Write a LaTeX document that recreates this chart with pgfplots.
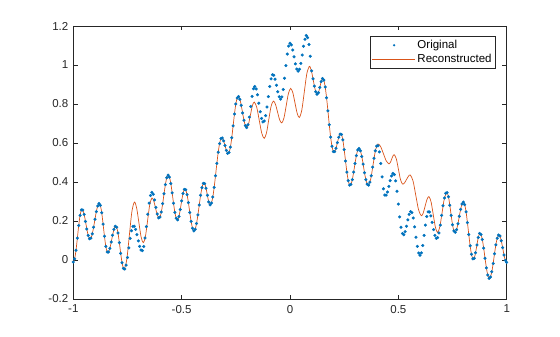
\documentclass[border=0pt]{standalone}
\usepackage{pgfplots}
\pgfplotsset{compat=1.18}
\usepackage{fontspec}
\setmainfont{Liberation Sans}
\definecolor{mblue}{HTML}{0072BD}
\definecolor{morange}{HTML}{D95319}
\definecolor{axgray}{HTML}{262626}
\begin{document}
\begin{tikzpicture}
\begin{axis}[
  scale only axis, width=433.4bp, height=273bp,
  xmin=-1, xmax=1, ymin=-0.2, ymax=1.2,
  xtick={-1,-0.5,0,0.5,1}, ytick={-0.2,0,0.2,0.4,0.6,0.8,1,1.2},
  tick align=inside, major tick length=4.3bp,
  axis line style={axgray, line width=0.5bp},
  tick style={axgray, line width=0.5bp},
  ticklabel style={font=\fontsize{11.5bp}{13bp}\selectfont, text=axgray},
  xticklabel style={yshift=-2.5bp},
  yticklabel style={xshift=-1.5bp},
  /pgf/number format/assume math mode=true,
  /pgf/number format/fixed,
  legend style={at={(rel axis cs:0.975,0.963)}, anchor=north east, draw=axgray, line width=0.5bp,
    font=\fontsize{11.5bp}{13bp}\selectfont, inner xsep=2bp, inner ysep=2bp, row sep=0.5bp},
  legend cell align=left,
]
\addplot[forget plot, mblue, only marks, mark=*, mark size=1.35bp, mark options={draw=none, fill=mblue}]
coordinates {
(-1,-0.010) (-0.99375,0.006) (-0.9875,0.050) (-0.98125,0.112) (-0.975,0.177) (-0.96875,0.229) (-0.9625,0.257)
(-0.95625,0.256) (-0.95,0.234) (-0.94375,0.198) (-0.9375,0.159) (-0.93125,0.126) (-0.925,0.109)
(-0.91875,0.112) (-0.9125,0.134) (-0.90625,0.168) (-0.9,0.209) (-0.89375,0.248) (-0.8875,0.277) (-0.88125,0.290)
(-0.875,0.280) (-0.86875,0.242) (-0.8625,0.184) (-0.85625,0.122) (-0.85,0.070) (-0.84375,0.041)
(-0.8375,0.041) (-0.83125,0.060) (-0.825,0.092) (-0.81875,0.127) (-0.8125,0.157) (-0.80625,0.173)
(-0.8,0.168) (-0.79375,0.138) (-0.7875,0.089) (-0.78125,0.034) (-0.775,-0.014) (-0.76875,-0.043)
(-0.7625,-0.046) (-0.75625,-0.026) (-0.75,0.013) (-0.74375,0.062) (-0.7375,0.111) (-0.73125,0.150) (-0.725,0.172)
(-0.71875,0.173) (-0.7125,0.157) (-0.70625,0.130) (-0.7,0.098) (-0.69375,0.070) (-0.6875,0.051)
(-0.68125,0.048) (-0.675,0.069) (-0.66875,0.113) (-0.6625,0.171) (-0.65625,0.235) (-0.65,0.292) (-0.64375,0.331) (-0.6375,0.347)
(-0.63125,0.337) (-0.625,0.308) (-0.61875,0.270) (-0.6125,0.236) (-0.60625,0.216)
(-0.6,0.220) (-0.59375,0.246) (-0.5875,0.289) (-0.58125,0.340) (-0.575,0.387) (-0.56875,0.422) (-0.5625,0.435)
(-0.55625,0.425) (-0.55,0.392) (-0.54375,0.344) (-0.5375,0.291) (-0.53125,0.244) (-0.525,0.214)
(-0.51875,0.206) (-0.5125,0.223) (-0.50625,0.259) (-0.5,0.303) (-0.49375,0.341) (-0.4875,0.362)
(-0.48125,0.360) (-0.475,0.335) (-0.46875,0.294) (-0.4625,0.244) (-0.45625,0.198) (-0.45,0.163) (-0.44375,0.149)
(-0.4375,0.158) (-0.43125,0.187) (-0.425,0.231) (-0.41875,0.282) (-0.4125,0.332) (-0.40625,0.371) (-0.4,0.393)
(-0.39375,0.392) (-0.3875,0.368) (-0.38125,0.332) (-0.375,0.298) (-0.36875,0.283)
(-0.3625,0.292) (-0.35625,0.323) (-0.35,0.372) (-0.34375,0.432) (-0.3375,0.495) (-0.33125,0.553) (-0.325,0.597) (-0.31875,0.623)
(-0.3125,0.626) (-0.30625,0.611) (-0.3,0.587) (-0.29375,0.562) (-0.2875,0.547)
(-0.28125,0.551) (-0.275,0.579) (-0.26875,0.627) (-0.2625,0.688) (-0.25625,0.749) (-0.25,0.800) (-0.24375,0.831)
(-0.2375,0.838) (-0.23125,0.824) (-0.225,0.793) (-0.21875,0.754) (-0.2125,0.717) (-0.20625,0.689) (-0.2,0.679)
(-0.19375,0.694) (-0.1875,0.733) (-0.18125,0.787) (-0.175,0.839) (-0.16875,0.878) (-0.1625,0.890)
(-0.15625,0.877) (-0.15,0.847) (-0.14375,0.804) (-0.1375,0.760) (-0.13125,0.726) (-0.125,0.708)
(-0.11875,0.713) (-0.1125,0.740) (-0.10625,0.785) (-0.1,0.838) (-0.09375,0.890) (-0.0875,0.929) (-0.08125,0.950)
(-0.075,0.947) (-0.06875,0.927) (-0.0625,0.896) (-0.05625,0.863) (-0.05,0.837) (-0.04375,0.825)
(-0.0375,0.836) (-0.03125,0.874) (-0.025,0.932) (-0.01875,0.997) (-0.0125,1.056) (-0.00625,1.097) (0,1.112)
(0.00625,1.103) (0.0125,1.077) (0.01875,1.042) (0.025,1.006) (0.03125,0.979) (0.0375,0.968)
(0.04375,0.978) (0.05,1.008) (0.05625,1.051) (0.0625,1.096) (0.06875,1.132) (0.075,1.151)
(0.08125,1.140) (0.0875,1.105) (0.09375,1.045) (0.1,0.970) (0.10625,0.929) (0.1125,0.892) (0.11875,0.863) (0.125,0.850)
(0.13125,0.858) (0.1375,0.885) (0.14375,0.915) (0.15,0.931)
(0.15625,0.922) (0.1625,0.887) (0.16875,0.832) (0.175,0.765) (0.18125,0.694) (0.1875,0.630) (0.19375,0.583) (0.2,0.556)
(0.20625,0.556) (0.2125,0.573) (0.21875,0.602) (0.225,0.629) (0.23125,0.646)
(0.2375,0.644) (0.24375,0.616) (0.25,0.566) (0.25625,0.508) (0.2625,0.451) (0.26875,0.407) (0.275,0.384)
(0.28125,0.388) (0.2875,0.412) (0.29375,0.451) (0.3,0.495) (0.30625,0.535) (0.3125,0.564)
(0.31875,0.572) (0.325,0.560) (0.33125,0.531) (0.3375,0.492) (0.34375,0.448) (0.35,0.412) (0.35625,0.389)
(0.3625,0.384) (0.36875,0.399) (0.375,0.432) (0.38125,0.476) (0.3875,0.522) (0.39375,0.560) (0.4,0.584)
(0.40625,0.586) (0.4125,0.554) (0.41875,0.495) (0.425,0.426) (0.43125,0.365) (0.4375,0.333)
(0.44375,0.333) (0.45,0.349) (0.45625,0.377) (0.4625,0.407) (0.46875,0.431) (0.475,0.444)
(0.48125,0.438) (0.4875,0.406) (0.49375,0.353) (0.5,0.287) (0.50625,0.221) (0.5125,0.168) (0.51875,0.136)
(0.525,0.130) (0.53125,0.145) (0.5375,0.173) (0.54375,0.206) (0.55,0.234) (0.55625,0.248)
(0.5625,0.243) (0.56875,0.215) (0.575,0.170) (0.58125,0.117) (0.5875,0.070) (0.59375,0.036) (0.6,0.024)
(0.60625,0.037) (0.6125,0.074) (0.61875,0.126) (0.625,0.179) (0.63125,0.223) (0.6375,0.247)
(0.64375,0.246) (0.65,0.226) (0.65625,0.193) (0.6625,0.156) (0.66875,0.126) (0.675,0.111)
(0.68125,0.115) (0.6875,0.139) (0.69375,0.179) (0.7,0.229) (0.70625,0.278) (0.7125,0.318) (0.71875,0.342)
(0.725,0.346) (0.73125,0.324) (0.7375,0.281) (0.74375,0.229) (0.75,0.181) (0.75625,0.149)
(0.7625,0.142) (0.76875,0.156) (0.775,0.186) (0.78125,0.224) (0.7875,0.260) (0.79375,0.287) (0.8,0.297)
(0.80625,0.284) (0.8125,0.247) (0.81875,0.192) (0.825,0.131) (0.83125,0.073) (0.8375,0.029) (0.84375,0.006)
(0.85,0.009) (0.85625,0.037) (0.8625,0.077) (0.86875,0.115) (0.875,0.136)
(0.88125,0.131) (0.8875,0.105) (0.89375,0.061) (0.9,0.009) (0.90625,-0.040) (0.9125,-0.077) (0.91875,-0.094)
(0.925,-0.087) (0.93125,-0.060) (0.9375,-0.018) (0.94375,0.032) (0.95,0.078) (0.95625,0.112) (0.9625,0.128)
(0.96875,0.123) (0.975,0.099) (0.98125,0.063) (0.9875,0.026) (0.99375,-0.002) (1,-0.012)
};
\addplot[forget plot, morange, line width=0.7bp, smooth, tension=0.5]
coordinates {
(-1,-0.010) (-0.99375,0.006) (-0.9875,0.050) (-0.98125,0.112) (-0.975,0.177) (-0.96875,0.229) (-0.9625,0.257)
(-0.95625,0.256) (-0.95,0.234) (-0.94375,0.198) (-0.9375,0.159) (-0.93125,0.126) (-0.925,0.109)
(-0.91875,0.112) (-0.9125,0.134) (-0.90625,0.168) (-0.9,0.209) (-0.89375,0.248) (-0.8875,0.277) (-0.88125,0.290)
(-0.875,0.280) (-0.86875,0.242) (-0.8625,0.184) (-0.85625,0.122) (-0.85,0.070) (-0.84375,0.041)
(-0.8375,0.041) (-0.83125,0.060) (-0.825,0.092) (-0.81875,0.127) (-0.8125,0.157) (-0.80625,0.173)
(-0.8,0.168) (-0.79375,0.138) (-0.7875,0.089) (-0.78125,0.034) (-0.775,-0.014) (-0.76875,-0.043)
(-0.765,-0.048) (-0.75325,0.002) (-0.7415,0.1245) (-0.72975,0.247) (-0.718,0.297) (-0.70775,0.267) (-0.6975,0.193)
(-0.68725,0.119) (-0.677,0.089) (-0.667,0.122) (-0.657,0.2035) (-0.647,0.285) (-0.637,0.318) (-0.62875,0.303)
(-0.6205,0.2665) (-0.61225,0.230) (-0.604,0.215)
(-0.6,0.220) (-0.59375,0.246) (-0.5875,0.289) (-0.58125,0.340) (-0.575,0.387) (-0.56875,0.422) (-0.5625,0.435)
(-0.55625,0.425) (-0.55,0.392) (-0.54375,0.344) (-0.5375,0.291) (-0.53125,0.244) (-0.525,0.214)
(-0.51875,0.206) (-0.5125,0.223) (-0.50625,0.259) (-0.5,0.303) (-0.49375,0.341) (-0.4875,0.362)
(-0.48125,0.360) (-0.475,0.335) (-0.46875,0.294) (-0.4625,0.244) (-0.45625,0.198) (-0.45,0.163) (-0.44375,0.149)
(-0.4375,0.158) (-0.43125,0.187) (-0.425,0.231) (-0.41875,0.282) (-0.4125,0.332) (-0.40625,0.371) (-0.4,0.393)
(-0.39375,0.392) (-0.3875,0.368) (-0.38125,0.332) (-0.375,0.298) (-0.36875,0.283)
(-0.3625,0.292) (-0.35625,0.323) (-0.35,0.372) (-0.34375,0.432) (-0.3375,0.495) (-0.33125,0.553) (-0.325,0.597) (-0.31875,0.623)
(-0.3125,0.626) (-0.30625,0.611) (-0.3,0.587) (-0.29375,0.562) (-0.2875,0.547)
(-0.28125,0.551) (-0.275,0.579) (-0.26875,0.627) (-0.2625,0.688) (-0.25625,0.749) (-0.25,0.800) (-0.24375,0.831)
(-0.2375,0.838) (-0.23125,0.824) (-0.225,0.793) (-0.21875,0.754) (-0.2125,0.717) (-0.20625,0.689) (-0.2,0.679)
(-0.19125,0.698) (-0.1825,0.7445) (-0.17375,0.791) (-0.165,0.810) (-0.1535,0.783) (-0.142,0.717) (-0.1305,0.651)
(-0.119,0.624) (-0.1085,0.652) (-0.098,0.7195) (-0.0875,0.787) (-0.077,0.815) (-0.06725,0.799) (-0.0575,0.759)
(-0.04775,0.719) (-0.038,0.703) (-0.02775,0.729) (-0.0175,0.7915) (-0.00725,0.854) (0.003,0.880) (0.013,0.858)
(0.023,0.8055) (0.033,0.753) (0.043,0.731) (0.0545,0.769) (0.066,0.862) (0.0775,0.955) (0.089,0.993)
(0.09375,0.987) (0.1,0.964)
(0.10625,0.929) (0.1125,0.892) (0.11875,0.863) (0.125,0.850)
(0.13125,0.858) (0.1375,0.885) (0.14375,0.915) (0.15,0.931)
(0.15625,0.922) (0.1625,0.887) (0.16875,0.832) (0.175,0.765) (0.18125,0.694) (0.1875,0.630) (0.19375,0.583) (0.2,0.556)
(0.20625,0.556) (0.2125,0.573) (0.21875,0.602) (0.225,0.629) (0.23125,0.646)
(0.2375,0.644) (0.24375,0.616) (0.25,0.566) (0.25625,0.508) (0.2625,0.451) (0.26875,0.407) (0.275,0.384)
(0.28125,0.388) (0.2875,0.412) (0.29375,0.451) (0.3,0.495) (0.30625,0.535) (0.3125,0.564)
(0.31875,0.572) (0.325,0.560) (0.33125,0.531) (0.3375,0.492) (0.34375,0.448) (0.35,0.412) (0.35625,0.389)
(0.361,0.383) (0.37225,0.414) (0.3835,0.489) (0.39475,0.564) (0.406,0.595) (0.41875,0.580) (0.4315,0.544)
(0.44425,0.508) (0.457,0.493) (0.463,0.500) (0.469,0.5165) (0.475,0.533) (0.481,0.540) (0.49075,0.518)
(0.5005,0.4645) (0.51025,0.411) (0.520,0.389) (0.52875,0.396) (0.5375,0.4125) (0.54625,0.429) (0.555,0.436)
(0.56775,0.4055) (0.5805,0.3315) (0.59325,0.2575) (0.606,0.227) (0.61475,0.241) (0.6235,0.276) (0.63225,0.311)
(0.641,0.325) (0.651,0.298) (0.661,0.233) (0.671,0.168) (0.681,0.141) (0.6915,0.171) (0.702,0.244) (0.7125,0.317)
(0.723,0.347)
(0.725,0.346) (0.73125,0.324) (0.7375,0.281) (0.74375,0.229) (0.75,0.181) (0.75625,0.149)
(0.7625,0.142) (0.76875,0.156) (0.775,0.186) (0.78125,0.224) (0.7875,0.260) (0.79375,0.287) (0.8,0.297)
(0.80625,0.284) (0.8125,0.247) (0.81875,0.192) (0.825,0.131) (0.83125,0.073) (0.8375,0.029) (0.84375,0.006)
(0.85,0.009) (0.85625,0.037) (0.8625,0.077) (0.86875,0.115) (0.875,0.136)
(0.88125,0.131) (0.8875,0.105) (0.89375,0.061) (0.9,0.009) (0.90625,-0.040) (0.9125,-0.077) (0.91875,-0.094)
(0.925,-0.087) (0.93125,-0.060) (0.9375,-0.018) (0.94375,0.032) (0.95,0.078) (0.95625,0.112) (0.9625,0.128)
(0.96875,0.123) (0.975,0.099) (0.98125,0.063) (0.9875,0.026) (0.99375,-0.002) (1,-0.012)
};
\addlegendimage{legend image code/.code={\fill[mblue, draw=none] (22bp,0bp) circle (1.35bp); \path[draw=none, fill=none] (0bp,0bp) (43bp,0bp);}}
\addlegendentry{Original}
\addlegendimage{legend image code/.code={\draw[morange, line width=0.7bp] (0bp,0bp) -- (43bp,0bp);}}
\addlegendentry{Reconstructed}
\end{axis}
\path (current axis.south west) ++(-73.3bp,-38bp);
\path (current axis.north east) ++(53.3bp,26bp);
\end{tikzpicture}
\end{document}
